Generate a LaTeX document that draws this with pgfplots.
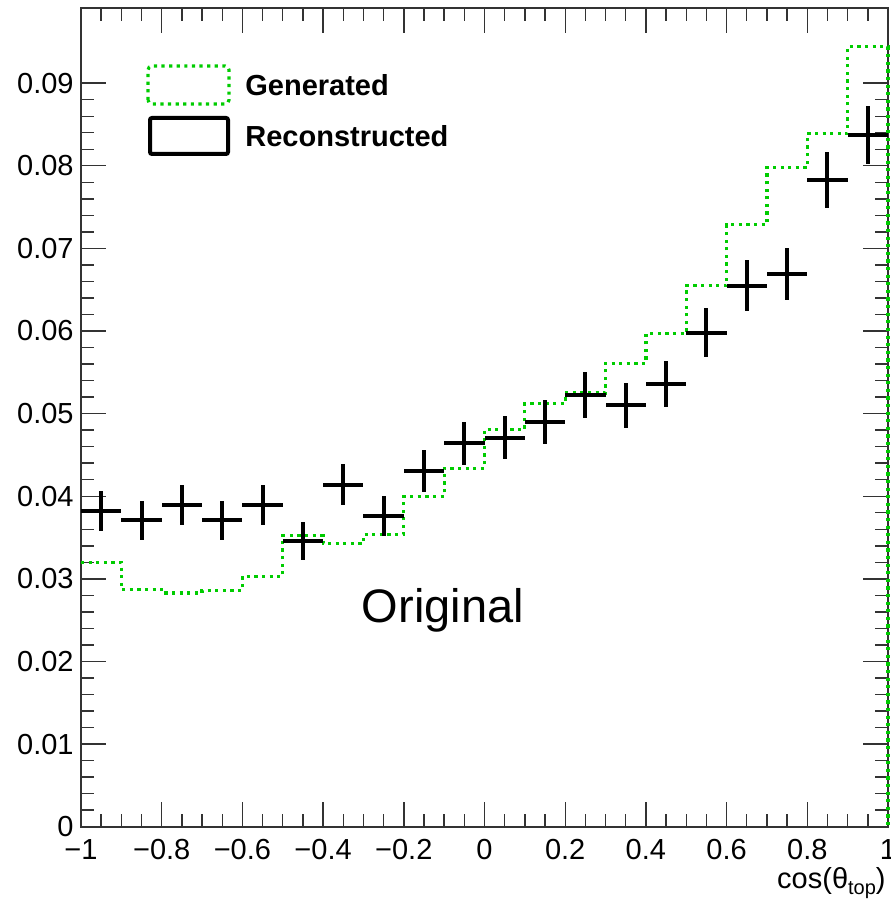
\documentclass[border=0pt]{standalone}
\usepackage{pgfplots}
\usepackage{pgfplotstable}
\usepackage{fontspec}
\setmainfont{Liberation Sans}
\pgfplotsset{compat=1.18}
\definecolor{rootgreen}{RGB}{0,204,0}

\pgfplotstableread{
x y
-1.0 0.0320
-0.9 0.0287
-0.8 0.0283
-0.7 0.0286
-0.6 0.0303
-0.5 0.0352
-0.4 0.0343
-0.3 0.0354
-0.2 0.0400
-0.1 0.0434
0.0 0.0481
0.1 0.0512
0.2 0.0525
0.3 0.0561
0.4 0.0597
0.5 0.0655
0.6 0.0729
0.7 0.0798
0.8 0.0839
0.9 0.0944
1.0 0.0944
1.0 0
}\gen

\pgfplotstableread{
x y ex ey
-0.95 0.0382 0.05 0.00238
-0.85 0.0371 0.05 0.00235
-0.75 0.0389 0.05 0.00241
-0.65 0.0371 0.05 0.00235
-0.55 0.0389 0.05 0.00241
-0.45 0.0346 0.05 0.00227
-0.35 0.0414 0.05 0.00248
-0.25 0.0376 0.05 0.00237
-0.15 0.0431 0.05 0.00253
-0.05 0.0464 0.05 0.00263
0.05 0.0471 0.05 0.00265
0.15 0.0490 0.05 0.00270
0.25 0.0522 0.05 0.00279
0.35 0.0510 0.05 0.00276
0.45 0.0536 0.05 0.00283
0.55 0.0598 0.05 0.00298
0.65 0.0655 0.05 0.00312
0.75 0.0669 0.05 0.00316
0.85 0.0783 0.05 0.00341
0.95 0.0837 0.05 0.00353
}\reco

\begin{document}
\begin{tikzpicture}
\useasboundingbox (-40.5pt,-36.15pt) rectangle (404.5pt,413.35pt);
\begin{axis}[
  scale only axis,
  width=403.5pt, height=409.35pt,
  xmin=-1, xmax=1, ymin=0, ymax=0.0991,
  axis line style={line width=0.8pt, black!80},
  tick style={line width=0.7pt, black!80},
  tick align=inside,
  major tick length=12.5pt,
  minor tick length=6.5pt,
  xtick={-1,-0.8,-0.6,-0.4,-0.2,0,0.2,0.4,0.6,0.8,1},
  xticklabels={−1,−0.8,−0.6,−0.4,−0.2,0,0.2,0.4,0.6,0.8,1},
  minor x tick num=3,
  ytick={0,0.01,0.02,0.03,0.04,0.05,0.06,0.07,0.08,0.09},
  yticklabels={0,0.01,0.02,0.03,0.04,0.05,0.06,0.07,0.08,0.09},
  minor y tick num=4,
  font=\fontsize{14.5}{17}\selectfont,
  xticklabel style={anchor=north, inner sep=0pt, yshift=-6pt},
  yticklabel style={anchor=east, inner sep=0pt, xshift=-3.5pt},
  clip=false,
]
\addplot[const plot, rootgreen, line width=1.6pt, dash pattern=on 1.6pt off 2.2pt] table[x=x,y=y] {\gen};
\addplot[draw=none, mark=none,
  error bars/.cd, x dir=both, x explicit, y dir=both, y explicit,
  error mark=none, error bar style={line width=2pt, draw=black, solid}]
  table[x=x, y=y, x error=ex, y error=ey] {\reco};
\node[font=\fontsize{23.5}{28}\selectfont] at (axis cs:-0.103,0.0262) {Original};
\node[anchor=base east, inner sep=0pt, font=\fontsize{14.5}{17}\selectfont] at (rel axis cs:1,0) [yshift=-30.7pt, xshift=-1pt] {cos(θ\raisebox{-0.45ex}{\fontsize{10}{12}\selectfont top})};
\end{axis}
\draw[rootgreen, line width=1.6pt, dash pattern=on 1.6pt off 2.2pt, rounded corners=2pt] (33.5pt,361.35pt) rectangle (74pt,380.35pt);
\draw[black, line width=2pt, rounded corners=1pt] (34.5pt,336.35pt) rectangle (73.5pt,354.35pt);
\node[anchor=west, inner sep=0pt, font=\fontsize{14.5}{17}\selectfont\bfseries] at (82pt,370.85pt) {Generated};
\node[anchor=west, inner sep=0pt, font=\fontsize{14.5}{17}\selectfont\bfseries] at (82pt,345.35pt) {Reconstructed};
\end{tikzpicture}
\end{document}
